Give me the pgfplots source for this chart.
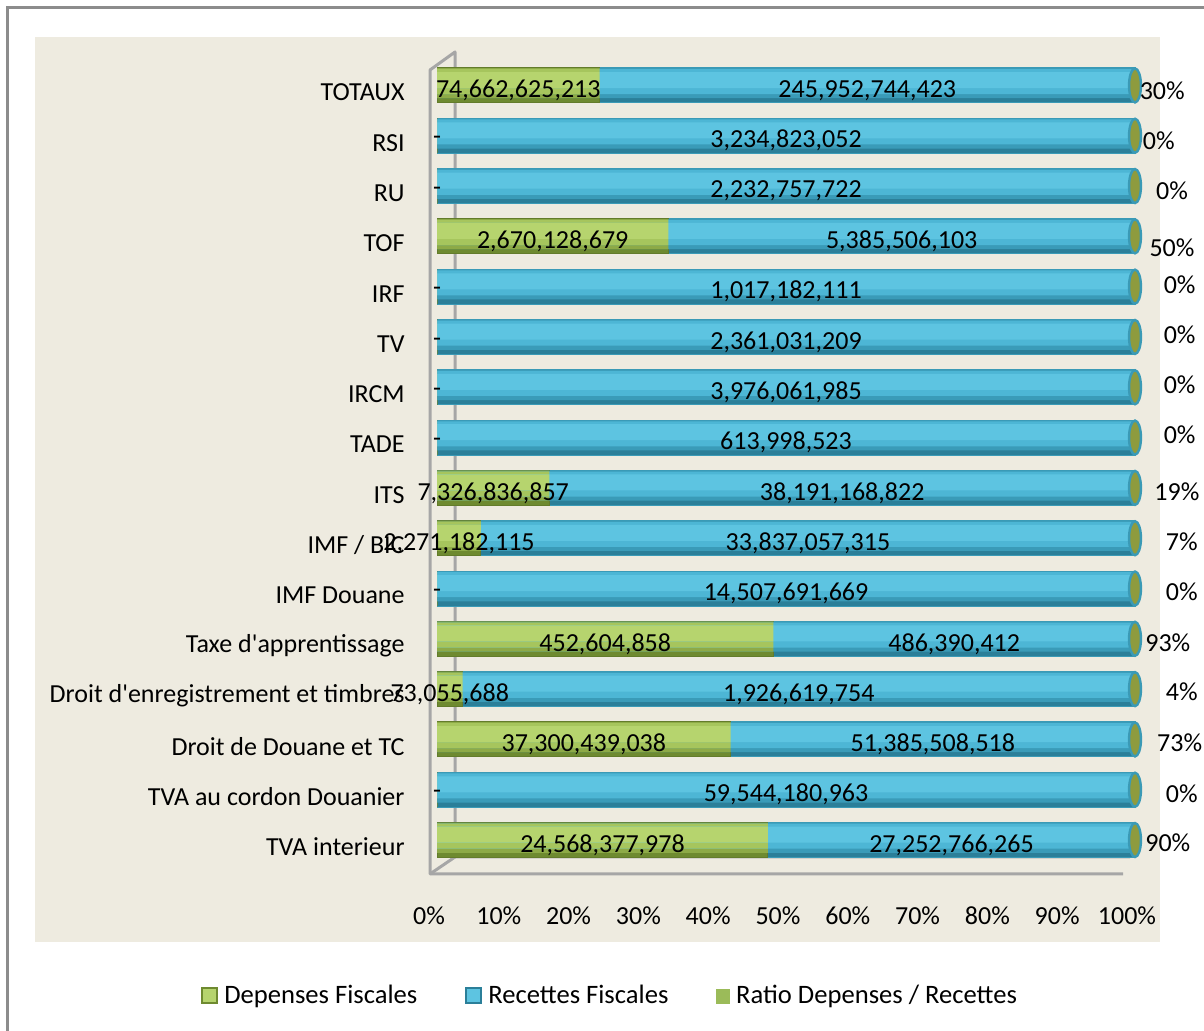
\documentclass[border=0pt]{standalone}
\usepackage{fontspec}
\setmainfont{Carlito}[Ligatures=TeXOff]
\usepackage{pgfplots}
\usepackage{pgfplotstable}
\pgfplotsset{compat=1.18}
\definecolor{bgbeige}{HTML}{EEEBE0}
\definecolor{framegray}{HTML}{8C8C8C}
\definecolor{wallgray}{HTML}{A6A6A6}
\definecolor{gdark}{HTML}{6E8A30}
\definecolor{gmid2}{HTML}{8DAA47}
\definecolor{gmid}{HTML}{A6C55D}
\definecolor{ghi}{HTML}{B6D46E}
\definecolor{bdark}{HTML}{2B7F99}
\definecolor{bmid2}{HTML}{3A9BB8}
\definecolor{bmid}{HTML}{4DB6D5}
\definecolor{bhi}{HTML}{5DC4E1}
\definecolor{bedge}{HTML}{3A9AB6}
\definecolor{capolive}{HTML}{8E9B3E}
\definecolor{ratiogreen}{HTML}{9BBB59}

\pgfplotstableread{
y dep rec deplab reclab ratio lx ly
0 24568377978 27252766265 24,568,377,978 27,252,766,265 90\% 104.7 -0.06
1 0 59544180963 - 59,544,180,963 0\% 106.7 0.93
2 37300439038 51385508518 37,300,439,038 51,385,508,518 73\% 106.4 1.93
3 73055688 1926619754 73,055,688 1,926,619,754 4\% 106.7 2.94
4 452604858 486390412 452,604,858 486,390,412 93\% 104.7 3.92
5 0 14507691669 - 14,507,691,669 0\% 106.7 4.93
6 2271182115 33837057315 2,271,182,115 33,837,057,315 7\% 106.7 5.93
7 7326836857 38191168822 7,326,836,857 38,191,168,822 19\% 106.0 6.92
8 0 613998523 - 613,998,523 0\% 106.4 8.05
9 0 3976061985 - 3,976,061,985 0\% 106.4 9.05
10 0 2361031209 - 2,361,031,209 0\% 106.4 10.05
11 0 1017182111 - 1,017,182,111 0\% 106.4 11.04
12 2670128679 5385506103 2,670,128,679 5,385,506,103 50\% 105.3 11.78
13 0 2232757722 - 2,232,757,722 0\% 105.3 12.91
14 0 3234823052 - 3,234,823,052 0\% 103.4 13.9
15 74662625213 245952744423 74,662,625,213 245,952,744,423 30\% 103.9 14.9
}\data

\newcommand{\totx}{100*(\thisrow{dep}+\thisrow{rec})/(\thisrow{dep}+\thisrow{rec})}
\newcommand{\depx}{100*\thisrow{dep}/(\thisrow{dep}+\thisrow{rec})}

\begin{document}
\begin{tikzpicture}
\begin{scope}[x=0.5pt,y=-0.5pt,yshift=515.5pt]
\useasboundingbox (0,0) rectangle (1204,1031);
\fill[white] (0,0) rectangle (1204,1031);
% outer frame
\draw[framegray, line width=1.5pt] (7,1040) -- (7,8) -- (1215,8);
% plot area background
\fill[bgbeige] (35,37) rectangle (1160,942);
% 3D walls
\draw[wallgray, line width=1.5pt, line join=round]
  (1123,874) -- (430,874) -- (430,70) -- (455,52) -- (455,857) -- (1130,857);
\draw[wallgray, line width=1.5pt] (430,874) -- (455,857);
\end{scope}

\begin{axis}[
  at={(218.5pt,82.9pt)}, anchor=south west,
  scale only axis,
  width=349pt, height=402.45pt,
  xmin=0, xmax=100,
  ymin=-0.5, ymax=15.5,
  clip=false,
  axis line style={draw=none},
  major tick length=0pt,
  font=\fontsize{13}{15.6}\selectfont,
  xtick={0,10,...,100},
  xticklabels={0\%,10\%,20\%,30\%,40\%,50\%,60\%,70\%,80\%,90\%,100\%},
  xticklabel style={anchor=center, yshift=-25.4pt, xshift=-4pt},
  ytick={0,...,15},
  yticklabels={TVA interieur,TVA au cordon Douanier,Droit de Douane et TC,Droit d'enregistrement et timbres,Taxe d'apprentissage,IMF Douane,IMF / BIC,ITS,TADE,IRCM,TV,IRF,TOF,RU,RSI,TOTAUX},
  yticklabel style={anchor=east, inner sep=0pt, xshift=-16pt, yshift=-3.5pt},
  legend columns=3,
  legend style={at={(0.248,-0.1625)}, anchor=center, draw=none, fill=none,
    font=\fontsize{13.3}{16}\selectfont,
    /tikz/every odd column/.append style={column sep=2pt},
    /tikz/every even column/.append style={column sep=23pt},
    nodes={inner xsep=1pt}},
]
% --- cylinder layers: base ---
\addplot[forget plot, xbar, bar width=17.5pt, bar shift=0pt, draw=bedge, line width=0.5pt, fill=bdark,
  mark=*, mark size=8.5pt, mark options={xscale=0.35, fill=capolive, draw=bedge, line width=1.2pt}]
  table[x expr={\totx}, y=y] {\data};
\addplot[forget plot, xbar, bar width=17.5pt, bar shift=0pt, draw=gdark!90!black, line width=0.5pt, fill=gdark]
  table[x expr={\depx}, y=y] {\data};
% --- second layer ---
\addplot[forget plot, xbar, bar width=15pt, bar shift=1.1pt, draw=none, fill=bmid2]
  table[x expr={\totx}, y=y] {\data};
\addplot[forget plot, xbar, bar width=15pt, bar shift=1.1pt, draw=none, fill=gmid2]
  table[x expr={\depx}, y=y] {\data};
% --- mid layer ---
\addplot[forget plot, xbar, bar width=12.5pt, bar shift=1.9pt, draw=none, fill=bmid]
  table[x expr={\totx}, y=y] {\data};
\addplot[forget plot, xbar, bar width=12.5pt, bar shift=1.9pt, draw=none, fill=gmid]
  table[x expr={\depx}, y=y] {\data};
% --- highlight layer ---
\addplot[forget plot, xbar, bar width=8pt, bar shift=2.7pt, draw=none, fill=bhi]
  table[x expr={\totx}, y=y] {\data};
\addplot[forget plot, xbar, bar width=8pt, bar shift=2.7pt, draw=none, fill=ghi]
  table[x expr={\depx}, y=y] {\data};

\addlegendimage{legend image code/.code={\draw[draw=gdark, line width=1pt, fill=ghi] (0pt,-3.75pt) rectangle (7.5pt,3.75pt);}}
\addlegendentry{Depenses Fiscales}
\addlegendimage{legend image code/.code={\draw[draw=bdark, line width=1pt, fill=bhi] (0pt,-3.75pt) rectangle (7.5pt,3.75pt);}}
\addlegendentry{Recettes Fiscales}
\addlegendimage{legend image code/.code={\fill[ratiogreen] (0.5pt,-3.5pt) rectangle (7pt,3.5pt);}}
\addlegendentry{Ratio Depenses / Recettes}

% value labels
\addplot[forget plot, only marks, mark=none,
  point meta=explicit symbolic, nodes near coords,
  every node near coord/.append style={anchor=center, yshift=-2.5pt, inner sep=0pt, font=\fontsize{13}{15.6}\selectfont}]
  table[x expr={50*\thisrow{dep}/(\thisrow{dep}+\thisrow{rec})}, y=y, meta=deplab] {\data};
\addplot[forget plot, only marks, mark=none,
  point meta=explicit symbolic, nodes near coords,
  every node near coord/.append style={anchor=center, yshift=-2.5pt, inner sep=0pt, font=\fontsize{13}{15.6}\selectfont}]
  table[x expr={100*(\thisrow{dep}+0.5*\thisrow{rec})/(\thisrow{dep}+\thisrow{rec})}, y=y, meta=reclab] {\data};
\addplot[forget plot, only marks, mark=none,
  point meta=explicit symbolic, nodes near coords,
  every node near coord/.append style={anchor=center, inner sep=0pt, font=\fontsize{13}{15.6}\selectfont}]
  table[x=lx, y=ly, meta=ratio] {\data};
\end{axis}
\end{tikzpicture}
\end{document}
